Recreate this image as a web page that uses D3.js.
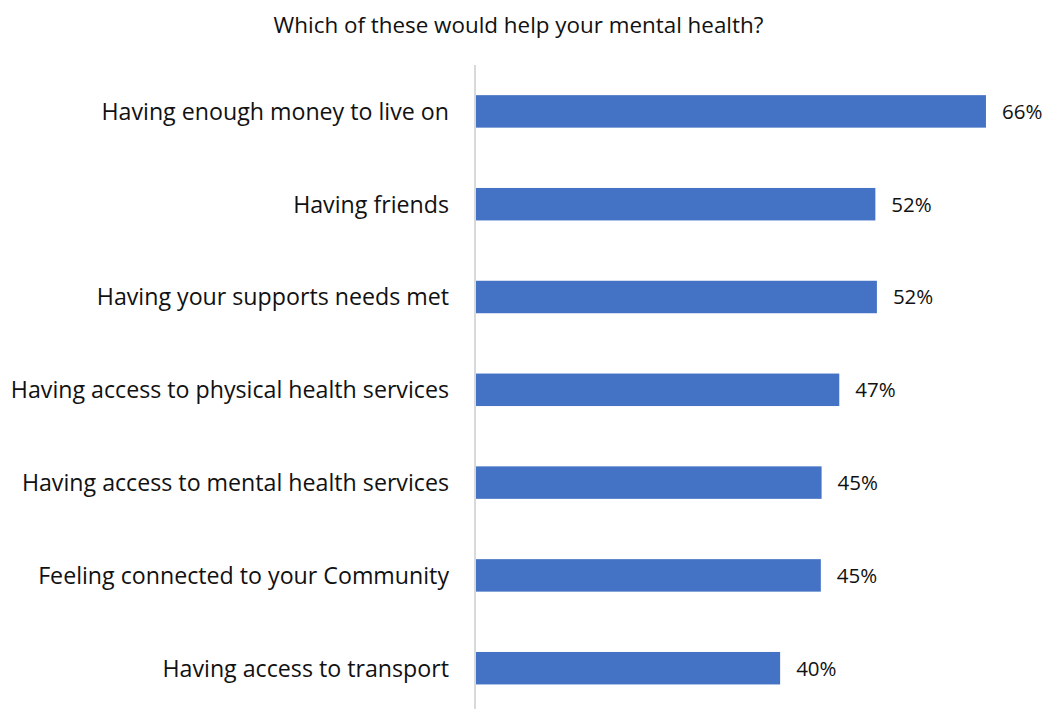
<!DOCTYPE html>
<html>
<head>
<meta charset="utf-8">
<script src="https://cdn.jsdelivr.net/npm/d3@7"></script>
<style>
  body { margin: 0; background: #fff; }
  svg text { font-family: "Open Sans", sans-serif; }
</style>
</head>
<body>
<div id="graph"></div>
<script>
const categories = [
  "Having enough money to live on",
  "Having friends",
  "Having your supports needs met",
  "Having access to physical health services",
  "Having access to mental health services",
  "Feeling connected to your Community",
  "Having access to transport"
];
const values = [0.664, 0.520, 0.522, 0.473, 0.450, 0.449, 0.396];
const title = "Which of these would help your mental health?";

function createChart() {
  const width = 1045;
  const height = 709;
  const barcolor = "#4472C4";
  const axiscolor = "#D9D9D9";
  const fontcolor = "#111111";

  const svg = d3
    .select("#graph")
    .append("svg")
    .attr("width", width)
    .attr("height", height);

  const x = d3.scaleLinear().domain([0, 0.7]).range([476, 1013.6]);

  const y = d3
    .scaleBand()
    .domain(categories)
    .range([65, 714.6])
    .paddingInner(0.65)
    .paddingOuter(0.325);

  const data = categories.map((c, i) => ({ name: c, value: values[i] }));

  // title
  svg
    .append("text")
    .attr("x", 518.5)
    .attr("y", 33)
    .attr("text-anchor", "middle")
    .attr("font-size", 22.4)
    .attr("fill", fontcolor)
    .text(title);

  // bars
  svg
    .append("g")
    .attr("fill", barcolor)
    .selectAll()
    .data(data)
    .join("rect")
    .attr("x", x(0))
    .attr("y", (d) => y(d.name))
    .attr("width", (d) => x(d.value) - x(0))
    .attr("height", y.bandwidth());

  // category axis
  const yAxis = svg
    .append("g")
    .attr("transform", `translate(${x(0) - 1},0)`)
    .call(d3.axisLeft(y).tickSize(0).tickPadding(26));

  yAxis.select(".domain").remove();
  yAxis
    .selectAll("text")
    .attr("font-size", 23.2)
    .attr("fill", fontcolor)
    .attr("dy", "0.36em");

  svg
    .append("line")
    .attr("x1", x(0) - 1)
    .attr("x2", x(0) - 1)
    .attr("y1", 65)
    .attr("y2", height)
    .attr("stroke", axiscolor)
    .attr("stroke-width", 2);

  // value labels
  svg
    .append("g")
    .selectAll()
    .data(data)
    .join("text")
    .attr("x", (d) => x(d.value) + 16)
    .attr("y", (d) => y(d.name) + y.bandwidth() / 2)
    .attr("dy", "0.36em")
    .attr("font-size", 20.5)
    .attr("fill", fontcolor)
    .text((d) => d3.format(".0%")(d.value));
}

document.addEventListener("DOMContentLoaded", createChart);
</script>
</body>
</html>
